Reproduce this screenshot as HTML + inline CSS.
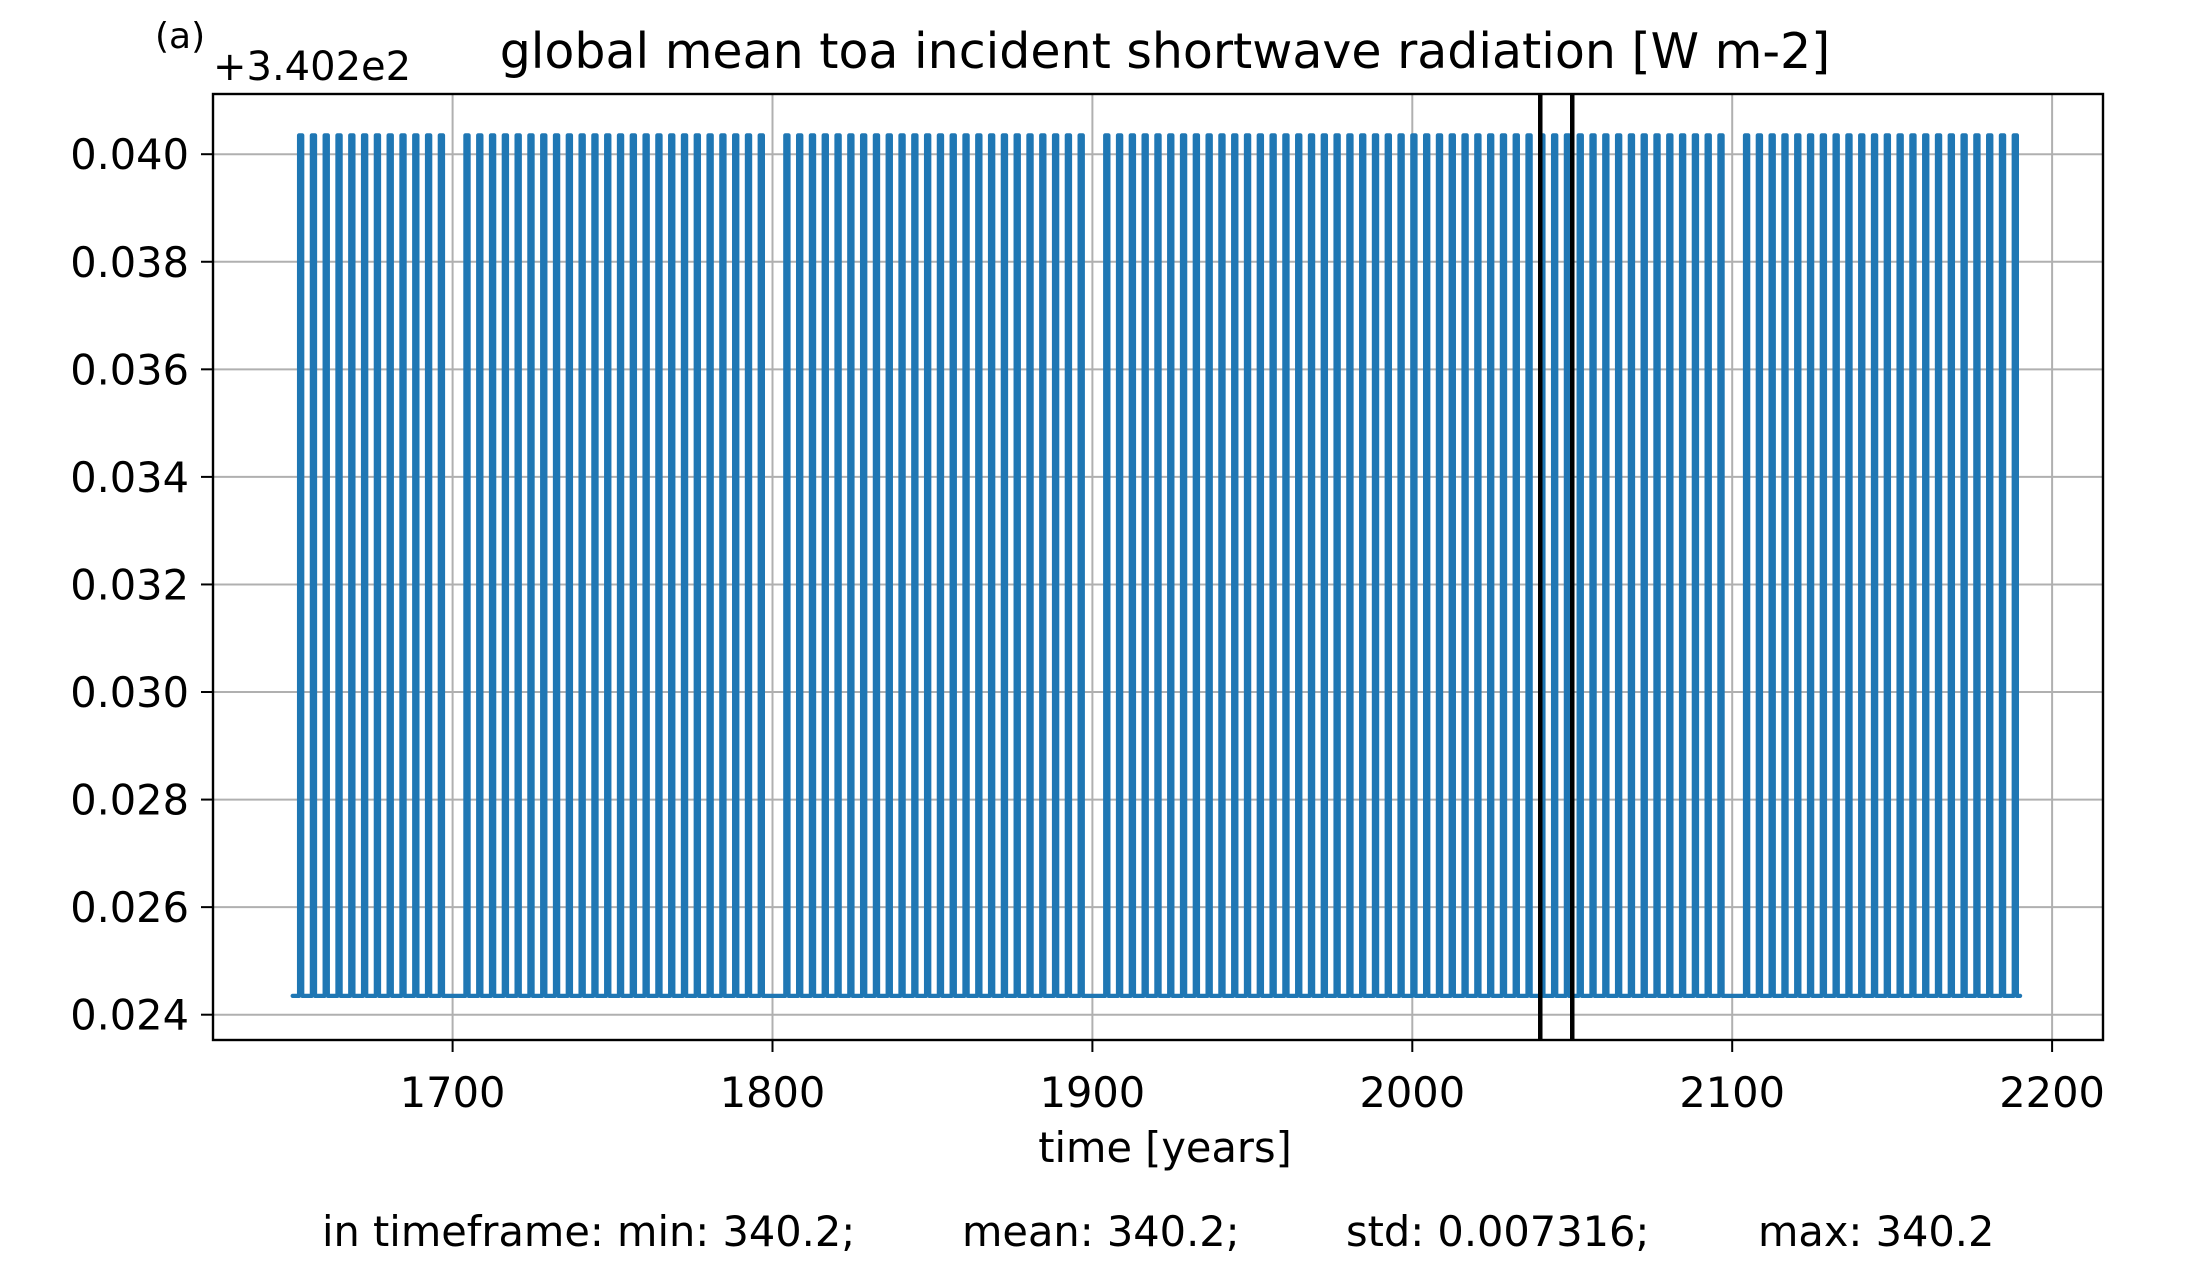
<!DOCTYPE html>
<html><head><meta charset="utf-8"><style>
html,body{margin:0;padding:0;background:#fff;}
svg{display:block;font-family:"DejaVu Sans","Liberation Sans",sans-serif;}
</style></head><body>
<svg id="chart" width="2196" height="1263" viewBox="0 0 2196 1263">
<text x="155" y="48" font-size="36">(a)</text>
<text x="213" y="80" font-size="40">+3.402e2</text>
<text x="1165" y="68" font-size="49" text-anchor="middle">global mean toa incident shortwave radiation [W m-2]</text>
<g id="grid"></g>
<g id="series"></g>
<g id="vlines"></g>
<rect x="213" y="94" width="1890" height="946" fill="none" stroke="#000" stroke-width="2.4"/>
<g id="ticks"></g>
<text x="1165" y="1162" font-size="41.5" text-anchor="middle">time [years]</text>
<g font-size="41.5">
<text x="322" y="1246">in timeframe: min: 340.2;</text>
<text x="962" y="1246">mean: 340.2;</text>
<text x="1346" y="1246">std: 0.007316;</text>
<text x="1758" y="1246">max: 340.2</text>
</g>
</svg>
<script>
const xTicks=[1700,1800,1900,2000,2100,2200];
const yTicks=[0.024,0.026,0.028,0.030,0.032,0.034,0.036,0.038,0.040];
const yTickLabels=["0.024","0.026","0.028","0.030","0.032","0.034","0.036","0.038","0.040"];
const startYear=1650, endYear=2190;
const lowValue=0.02435, highValue=0.04035;
const spikeYears=[1652,1656,1660,1664,1668,1672,1676,1680,1684,1688,1692,1696,
1704,1708,1712,1716,1720,1724,1728,1732,1736,1740,1744,1748,1752,1756,1760,1764,1768,1772,1776,1780,1784,1788,1792,1796,
1804,1808,1812,1816,1820,1824,1828,1832,1836,1840,1844,1848,1852,1856,1860,1864,1868,1872,1876,1880,1884,1888,1892,1896,
1904,1908,1912,1916,1920,1924,1928,1932,1936,1940,1944,1948,1952,1956,1960,1964,1968,1972,1976,1980,1984,1988,1992,1996,2000,2004,2008,2012,2016,2020,2024,2028,2032,2036,2040,2044,2048,2052,2056,2060,2064,2068,2072,2076,2080,2084,2088,2092,2096,
2104,2108,2112,2116,2120,2124,2128,2132,2136,2140,2144,2148,2152,2156,2160,2164,2168,2172,2176,2180,2184,2188];
const markerYears=[2040,2050];

const NS="http://www.w3.org/2000/svg";
const L=213,R=2103,T=94,B=1040;
const X=v=>452.6+(v-1700)*3.199;
const Y=v=>1014.7-(v-0.024)*53781;
function mk(tag,attrs,parent){const e=document.createElementNS(NS,tag);for(const k in attrs)e.setAttribute(k,attrs[k]);parent.appendChild(e);return e;}
const grid=document.getElementById('grid'),ticks=document.getElementById('ticks');
xTicks.forEach(t=>{
  const g=mk('line',{x1:X(t),x2:X(t),y1:T,y2:B,stroke:'#b0b0b0','stroke-width':2},grid);
  
  
  const tk=mk('line',{x1:X(t),x2:X(t),y1:B,y2:B+12,stroke:'#000','stroke-width':2},ticks);
  
  
  const tx=mk('text',{x:X(t),y:1107,'font-size':41.5,'text-anchor':'middle'},ticks);
  tx.textContent=t;
  
  
});
yTicks.forEach((t,i)=>{
  const g=mk('line',{x1:L,x2:R,y1:Y(t),y2:Y(t),stroke:'#b0b0b0','stroke-width':2},grid);
  
  
  const tk=mk('line',{x1:L-12,x2:L,y1:Y(t),y2:Y(t),stroke:'#000','stroke-width':2},ticks);
  
  
  const tx=mk('text',{x:L-24,y:Y(t)+15,'font-size':41.5,'text-anchor':'end'},ticks);
  tx.textContent=yTickLabels[i];
  
  
});
let d='M'+X(startYear)+','+Y(lowValue);
spikeYears.forEach(y=>{
  d+=' L'+X(y)+','+Y(lowValue)+' L'+X(y)+','+Y(highValue)+' L'+X(y+1)+','+Y(highValue)+' L'+X(y+1)+','+Y(lowValue);
});
d+=' L'+X(endYear)+','+Y(lowValue);
const p=mk('path',{d:d,fill:'none',stroke:'#1f77b4','stroke-width':4.2,'stroke-linejoin':'round','stroke-linecap':'round'},document.getElementById('series'));


markerYears.forEach(y=>{
  const l=mk('line',{x1:X(y),x2:X(y),y1:T,y2:B,stroke:'#000','stroke-width':4.5},document.getElementById('vlines'));
  
  
});
</script>
</body></html>
